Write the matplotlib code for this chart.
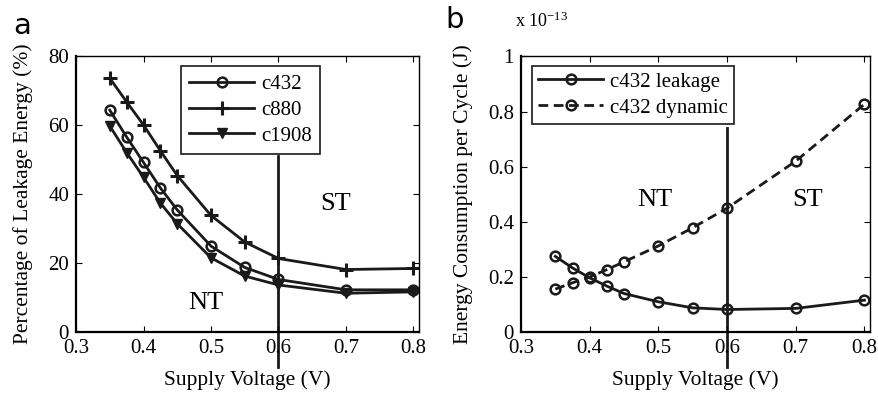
import matplotlib
matplotlib.use("Agg")
import matplotlib.pyplot as plt
import numpy as np

# supply voltage points (V)
vdd = [0.35, 0.375, 0.4, 0.425, 0.45, 0.5, 0.55, 0.6, 0.7, 0.8]

# panel a: percentage of leakage energy (%)
c432 = [64.4, 56.6, 49.2, 41.8, 35.4, 24.9, 18.7, 15.2, 12.2, 12.2]
c880 = [73.7, 66.8, 60.1, 52.6, 45.4, 33.8, 26.1, 21.3, 18.1, 18.4]
c1908 = [59.8, 52.1, 44.9, 37.4, 31.4, 21.5, 16.2, 13.6, 11.2, 11.6]

# panel b: energy per cycle (x 1e-13 J)
leak432 = [0.274, 0.232, 0.196, 0.166, 0.139, 0.109, 0.087, 0.081, 0.085, 0.115]
dyn432 = [0.155, 0.178, 0.199, 0.226, 0.254, 0.312, 0.378, 0.449, 0.620, 0.827]

plt.rcParams['font.family'] = ['Liberation Serif', 'DejaVu Serif']
plt.rcParams['font.size'] = 15.5
plt.rcParams['mathtext.fontset'] = 'stix'

fig = plt.figure(figsize=(8.79, 3.95), dpi=100)
ax1 = fig.add_axes([0.0865, 0.160, 0.390, 0.697])
ax2 = fig.add_axes([0.5927, 0.160, 0.397, 0.697])

lw = 2.0
ms = 7
mew = 1.8
k = '#1a1a1a'

ax1.plot(vdd, c432, color=k, lw=lw, marker='o', ms=ms, mfc='none', mew=mew, label='c432')
ax1.plot(vdd, c880, color=k, lw=lw, marker='+', ms=ms + 3, mew=2.2, label='c880')
ax1.plot(vdd, c1908, color=k, lw=lw, marker='v', ms=ms, mew=1.0, label='c1908')
ax1.plot([0.6, 0.6], [-10.2, 51], color=k, lw=2.0, clip_on=False, zorder=1)

ax1.set_xlim(0.3, 0.808)
ax1.set_ylim(0, 80)
ax1.set_xticks([0.3, 0.4, 0.5, 0.6, 0.7, 0.8])
ax1.set_xticklabels(['0.3', '0.4', '0.5', '0.6', '0.7', '0.8'])
ax1.set_yticks([0, 20, 40, 60, 80])
ax1.set_xlabel('Supply Voltage (V)', labelpad=9)
ax1.set_ylabel('Percentage of Leakage Energy (%)', labelpad=11)
ax1.text(0.492, 8.3, 'NT', ha='center', va='center', fontsize=19)
ax1.text(0.685, 37, 'ST', ha='center', va='center', fontsize=19)
leg1 = ax1.legend(loc='upper left', bbox_to_anchor=(0.306, 0.965), borderaxespad=0, fancybox=False,
                  framealpha=1, edgecolor=k, handlelength=3.1,
                  borderpad=0.4, labelspacing=0.3, handletextpad=0.35, fontsize=15)
leg1.get_frame().set_linewidth(1.2)
leg1.set_zorder(5)

ax2.plot(vdd, leak432, color=k, lw=lw, marker='o', ms=ms, mfc='none', mew=mew, label='c432 leakage')
ax2.plot(vdd, dyn432, color=k, lw=lw, ls='--', dashes=(3.5, 2), marker='o', ms=ms, mfc='none', mew=mew,
         label='c432 dynamic')
ax2.plot([0.6, 0.6], [-0.127, 0.74], color=k, lw=2.0, clip_on=False, zorder=1)

ax2.set_xlim(0.3, 0.808)
ax2.set_ylim(0, 1)
ax2.set_xticks([0.3, 0.4, 0.5, 0.6, 0.7, 0.8])
ax2.set_xticklabels(['0.3', '0.4', '0.5', '0.6', '0.7', '0.8'])
ax2.set_yticks([0, 0.2, 0.4, 0.6, 0.8, 1.0])
ax2.set_yticklabels(['0', '0.2', '0.4', '0.6', '0.8', '1'])
ax2.set_xlabel('Supply Voltage (V)', labelpad=9)
ax2.set_ylabel('Energy Consumption per Cycle (J)', labelpad=11)
ax2.text(0.495, 0.48, 'NT', ha='center', va='center', fontsize=19)
ax2.text(0.717, 0.48, 'ST', ha='center', va='center', fontsize=19)
leg2 = ax2.legend(loc='upper left', bbox_to_anchor=(0.032, 0.966), borderaxespad=0, fancybox=False,
                  framealpha=1, edgecolor=k, handlelength=3.1,
                  borderpad=0.3, labelspacing=0.3, handletextpad=0.35, fontsize=15)
leg2.get_frame().set_linewidth(1.2)
leg2.set_zorder(5)

for ax in (ax1, ax2):
    ax.tick_params(direction='in', top=True, right=True, length=4, width=0.8, labelsize=15, pad=5)
    for s in ax.spines.values():
        s.set_linewidth(1.0)
    for s in ('left', 'bottom'):
        ax.spines[s].set_linewidth(1.6)

fig.text(0.586, 0.945, r'x 10$^{\mathregular{-13}}$', fontsize=13, ha='left', va='center')
fig.text(0.015, 0.935, 'a', family='DejaVu Sans', fontsize=21, va='center')
fig.text(0.507, 0.95, 'b', family='DejaVu Sans', fontsize=21, va='center')

fig.savefig('out.png', dpi=100)
